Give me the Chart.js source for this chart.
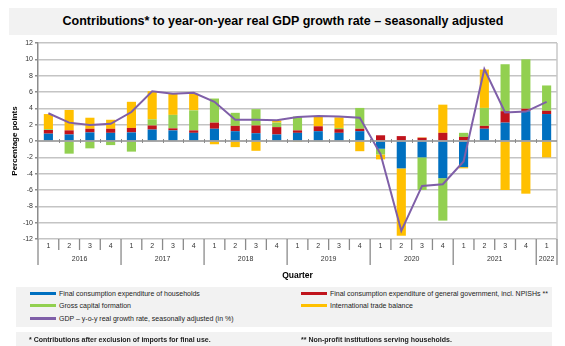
<!DOCTYPE html>
<html>
<head>
<meta charset="utf-8">
<script src="https://cdn.jsdelivr.net/npm/chart.js@4.4.1/dist/chart.umd.min.js"></script>
<style>
body { margin: 0; background: #fff; font-family: 'Liberation Sans', Arial, sans-serif; }
#wrap { position: relative; width: 565px; height: 346px; overflow: hidden; }
canvas { position: absolute; left: 0; top: 0; }
#title { position: absolute; left: 9px; top: 8px; width: 548px; height: 27px; background: #f2f2f2;
  font-weight: bold; font-size: 12.5px; line-height: 27px; text-align: center; color: #000; }
#legend { position: absolute; left: 16px; top: 287px; width: 536px; height: 40px; background: #f2f2f2;
  font-size: 7px; color: #222; }
#notes { position: absolute; left: 16px; top: 332px; width: 536px; height: 14px; background: #f2f2f2;
  font-size: 7px; font-weight: bold; color: #222; }
.item { position: absolute; height: 10px; line-height: 10px; white-space: nowrap; }
.swatch { display: inline-block; width: 26px; height: 3px; vertical-align: middle; margin-right: 3px; margin-top: -1px; }
</style>
</head>
<body>
<div id="wrap">
  <canvas id="gdpChart" width="565" height="346"></canvas>
  <div id="title">Contributions* to year-on-year real GDP growth rate – seasonally adjusted</div>
  <div id="legend"></div>
  <div id="notes">
    <div class="item" style="left:13px;top:3px">* Contributions after exclusion of imports for final use.</div>
    <div class="item" style="left:285px;top:3px">** Non-profit institutions serving households.</div>
  </div>
</div>
<script>
// quarters 2016Q1 .. 2022Q1
const years = ['2016', '2016', '2016', '2016', '2017', '2017', '2017', '2017', '2018', '2018', '2018', '2018',
  '2019', '2019', '2019', '2019', '2020', '2020', '2020', '2020', '2021', '2021', '2021', '2021', '2022'];
const quarters = ['1', '2', '3', '4', '1', '2', '3', '4', '1', '2', '3', '4', '1', '2', '3', '4',
  '1', '2', '3', '4', '1', '2', '3', '4', '1'];

const households = [0.9, 0.8, 1.05, 1.0, 1.05, 1.4, 1.3, 1.0, 1.5, 1.2, 0.95, 0.8,
  1.0, 1.2, 1.0, 1.2, -0.95, -3.35, -2.0, -4.55, -3.2, 1.5, 2.25, 3.65, 3.3];
const government = [0.45, 0.5, 0.45, 0.5, 0.55, 0.5, 0.25, 0.3, 0.75, 0.65, 0.95, 0.9,
  0.3, 0.6, 0.45, 0.3, 0.7, 0.6, 0.4, 1.0, 0.5, 0.35, 1.4, 0.3, 0.4];
const capital = [0.1, -1.55, -0.9, -0.5, -1.3, 0.75, 1.65, 2.45, 2.95, 1.6, 2.0, 0.55,
  1.7, -0.1, 0.15, 2.55, -0.7, 0, -4.0, -5.2, 0.5, 2.2, 5.75, 6.05, 3.1];
const trade = [1.85, 2.5, 1.35, 1.1, 3.2, 3.45, 2.6, 2.05, -0.4, -0.75, -1.2, 0.25,
  -0.05, 1.2, 1.3, -1.25, -0.6, -8.25, 0.05, 3.45, -0.15, 4.7, -6.0, -6.45, -2.0];
const gdp = [3.4, 2.25, 1.95, 2.1, 3.55, 6.1, 5.8, 5.9, 4.8, 2.6, 2.6, 2.55,
  2.95, 3.05, 3.0, 2.85, -1.6, -11.0, -5.5, -5.3, -2.5, 8.8, 3.5, 3.6, 4.8];

const names = ['Final consumption expenditure of households',
  'Final consumption expenditure of general government, incl. NPISHs **',
  'Gross capital formation', 'International trade balance',
  'GDP  – y-o-y real growth rate, seasonally adjusted (in %)'];
const colors = ['#0070c0', '#c0141c', '#92d050', '#ffc000', '#7f5fa8'];

// legend (html)
const legendPos = [[14, 2], [285, 2], [14, 14], [285, 14], [14, 27]];
const legendEl = document.getElementById('legend');
names.forEach(function(n, i) {
    const d = document.createElement('div');
    d.className = 'item';
    d.style.left = legendPos[i][0] + 'px';
    d.style.top = legendPos[i][1] + 'px';
    d.innerHTML = '<span class="swatch" style="background:' + colors[i] + '"></span>' + n;
    legendEl.appendChild(d);
});

// quarter / year axis, zero line, frame
const axisDeco = {
    id: 'axisDeco',
    afterDraw(chart) {
        const ctx = chart.ctx;
        const a = chart.chartArea;
        const x = chart.scales.x;
        const y = chart.scales.y;
        const half = (x.getPixelForValue(1) - x.getPixelForValue(0)) / 2;
        const y0 = y.getPixelForValue(0);
        const ln = function(x1, y1, x2, y2) {
            ctx.beginPath(); ctx.moveTo(x1, y1); ctx.lineTo(x2, y2); ctx.stroke();
        };
        ctx.save();
        ctx.lineWidth = 1.5;
        ctx.strokeStyle = '#c8c8c8';
        ln(a.right, a.top, a.right, a.bottom);
        ctx.strokeStyle = '#8c8c8c';
        ln(a.left, y0, a.right, y0);
        ctx.lineWidth = 1;
        for (let i = 1; i < quarters.length; i++) {
            const bx = Math.round(x.getPixelForValue(i) - half) + 0.5;
            ln(bx, y0 - 2, bx, y0 + 2);
        }
        // separators below the plot
        ctx.strokeStyle = '#8a8a8a';
        ctx.lineWidth = 1.3;
        for (let i = 0; i <= quarters.length; i++) {
            const bx = i === quarters.length ? a.right : x.getPixelForValue(i) - half;
            const longTick = i === 0 || i === quarters.length || years[i] !== years[i - 1];
            ln(bx, a.bottom, bx, longTick ? a.bottom + 26 : a.bottom + 11);
        }
        ctx.fillStyle = '#333';
        ctx.font = '7px "Liberation Sans", Arial, sans-serif';
        ctx.textAlign = 'center';
        ctx.textBaseline = 'middle';
        quarters.forEach(function(q, i) {
            ctx.fillText(q, x.getPixelForValue(i), a.bottom + 7);
        });
        let start = 0;
        for (let i = 1; i <= years.length; i++) {
            if (i === years.length || years[i] !== years[start]) {
                const cx = (x.getPixelForValue(start) + x.getPixelForValue(i - 1)) / 2;
                ctx.fillText(years[start], cx, a.bottom + 20);
                start = i;
            }
        }
        ctx.fillStyle = '#000';
        ctx.font = 'bold 8.5px "Liberation Sans", Arial, sans-serif';
        ctx.fillText('Quarter', (a.left + a.right) / 2, a.bottom + 37);
        ctx.translate(15, (a.top + a.bottom) / 2);
        ctx.rotate(-Math.PI / 2);
        ctx.font = 'bold 8px "Liberation Sans", Arial, sans-serif';
        ctx.fillText('Percentage points', 0, 0);
        ctx.restore();
    }
};

Chart.defaults.font.family = '"Liberation Sans", Arial, sans-serif';

const barSet = function(idx, data) {
    return {
        type: 'bar',
        label: names[idx],
        data: data,
        backgroundColor: colors[idx],
        stack: 'parts',
        order: 1,
        barPercentage: 0.44,
        categoryPercentage: 1.0
    };
};

new Chart(document.getElementById('gdpChart'), {
    data: {
        labels: quarters.map(function(q, i) { return years[i] + ' Q' + q; }),
        datasets: [{
            type: 'line',
            label: names[4],
            data: gdp,
            borderColor: colors[4],
            borderWidth: 2,
            pointRadius: 0,
            tension: 0,
            stack: 'gdp',
            order: 0
        },
        barSet(0, households),
        barSet(1, government),
        barSet(2, capital),
        barSet(3, trade)]
    },
    options: {
        responsive: false,
        animation: false,
        layout: { padding: { left: 0, right: 8, top: 43, bottom: 107 } },
        plugins: { legend: { display: false }, tooltip: { enabled: false } },
        scales: {
            x: { display: false, stacked: true, offset: true },
            y: {
                stacked: true,
                min: -12,
                max: 12,
                afterFit: function(scale) { scale.width = 38; },
                ticks: { stepSize: 2, font: { size: 7 }, color: '#333', padding: 2 },
                grid: {
                    color: function(c) { return c.tick && c.tick.value === 0 ? 'rgba(0,0,0,0)' : '#c4c4c4'; },
                    lineWidth: 1.4,
                    tickLength: 3,
                    tickColor: '#8c8c8c'
                },
                border: { color: '#8c8c8c', width: 1.5 }
            }
        }
    },
    plugins: [axisDeco]
});
</script>
</body>
</html>
